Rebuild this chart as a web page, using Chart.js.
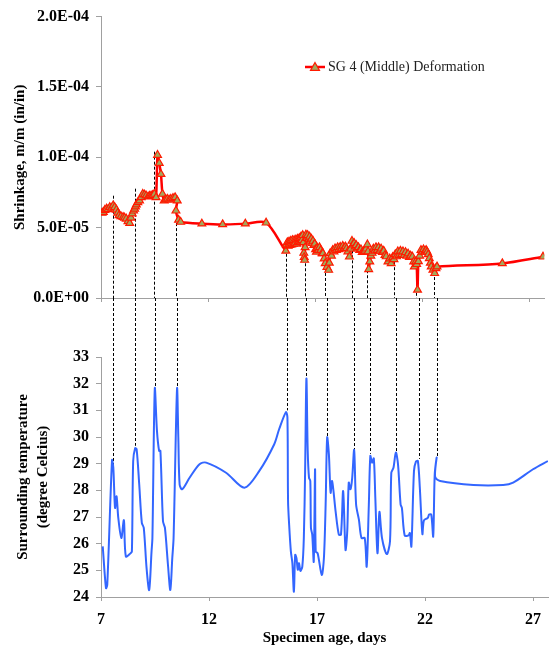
<!DOCTYPE html>
<html>
<head>
<meta charset="utf-8">
<script src="https://cdn.jsdelivr.net/npm/chart.js@4/dist/chart.umd.min.js"></script>
<style>
  body { margin: 0; background: #fff; }
  #wrap { position: relative; width: 550px; height: 649px; overflow: hidden; }
  canvas { position: absolute; left: 0; }
  #topChart { top: 0; }
  #bottomChart { top: 298px; }
</style>
</head>
<body>
<div id="wrap">
  <canvas id="topChart" width="550" height="320"></canvas>
  <canvas id="bottomChart" width="550" height="351"></canvas>
</div>
<script>
// shrinkage series (SG 4 middle), specimen age in days
let shrinkDays = [7.05, 7.11, 7.18, 7.26, 7.33, 7.41, 7.49, 7.57, 7.64, 7.72, 7.78, 7.84, 7.93, 8.03, 8.10, 8.18, 8.26, 8.34,
  8.40, 8.46, 8.52, 8.57, 8.61, 8.65, 8.72, 8.80, 8.88, 8.95, 9.03, 9.11, 9.20, 9.27, 9.34, 9.41, 9.49, 9.57,
  9.64, 9.72, 9.80, 9.87, 9.95, 10.02, 10.10, 10.18, 10.26, 10.36, 10.46, 10.56, 10.50, 10.62, 10.72,
  11.71, 12.68, 13.74, 14.71,
  15.63, 15.66, 15.70, 15.74, 15.78, 15.82, 15.86, 15.90, 15.94, 15.98, 16.02, 16.06, 16.10, 16.14, 16.18, 16.22,
  16.26, 16.30, 16.34, 16.38, 16.42, 16.45, 16.47, 16.49, 16.51, 16.53, 16.57, 16.61, 16.65, 16.70, 16.74, 16.78,
  16.82, 16.86, 16.90, 16.94, 16.98, 17.02, 17.06, 17.10, 17.15, 17.20, 17.26, 17.32, 17.36, 17.42, 17.47, 17.55,
  17.63, 17.66, 17.70, 17.76, 17.82, 17.88, 17.93, 17.99, 18.05, 18.11, 18.17, 18.23, 18.29, 18.35, 18.41, 18.47,
  18.53, 18.60, 18.66, 18.72, 18.77, 18.82, 18.87, 18.92, 18.97, 19.02, 19.08, 19.14, 19.20, 19.26, 19.32, 19.38,
  19.44, 19.47, 19.50, 19.55, 19.60, 19.66, 19.72, 19.78, 19.84, 19.90, 19.96, 20.02, 20.08, 20.14, 20.20, 20.26,
  20.32, 20.40, 20.48, 20.55, 20.62, 20.68, 20.74, 20.80, 20.86, 20.92, 20.98, 21.04, 21.10, 21.16, 21.22, 21.28,
  21.34, 21.40, 21.46, 21.54, 21.60, 21.63, 21.70, 21.74, 21.78, 21.82, 21.88, 21.94, 22.00, 22.06, 22.12, 22.18,
  22.23, 22.28, 22.33, 22.38, 22.42, 22.50, 22.58, 22.64, 22.69, 25.74, 27.64];
let shrinkVals = [6.05e-5, 6.10e-5, 6.25e-5, 6.34e-5, 6.30e-5, 6.45e-5, 6.40e-5, 6.57e-5, 6.45e-5, 6.27e-5, 6.05e-5, 5.87e-5,
  5.80e-5, 5.75e-5, 5.70e-5, 5.63e-5, 5.45e-5, 5.32e-5,
  5.70e-5, 5.99e-5, 6.20e-5, 6.34e-5, 6.50e-5, 6.64e-5, 6.80e-5, 6.92e-5, 7.15e-5, 7.39e-5, 7.35e-5, 7.27e-5,
  7.20e-5, 7.25e-5, 7.27e-5, 7.30e-5, 7.39e-5, 7.15e-5,
  10.16e-5, 9.58e-5, 8.80e-5, 7.39e-5, 6.92e-5, 7.00e-5, 7.04e-5, 6.98e-5, 7.04e-5, 7.10e-5, 7.15e-5, 6.92e-5,
  6.20e-5, 5.55e-5, 5.40e-5,
  5.28e-5, 5.23e-5, 5.28e-5, 5.35e-5,
  3.35e-5, 3.80e-5, 3.95e-5, 3.70e-5, 4.00e-5, 3.75e-5, 4.05e-5, 3.80e-5, 4.10e-5, 3.85e-5, 4.10e-5, 3.90e-5,
  4.15e-5, 3.85e-5, 4.20e-5, 3.95e-5,
  4.25e-5, 4.00e-5, 4.35e-5, 4.10e-5, 4.46e-5, 3.95e-5, 3.20e-5, 2.90e-5, 2.70e-5, 3.60e-5, 4.50e-5, 4.25e-5,
  4.46e-5, 4.20e-5, 4.35e-5, 4.05e-5,
  4.20e-5, 3.90e-5, 4.05e-5, 3.75e-5, 3.85e-5, 3.45e-5, 3.28e-5, 3.55e-5, 3.40e-5, 3.60e-5, 3.40e-5, 3.17e-5,
  3.17e-5, 2.80e-5, 2.46e-5, 2.20e-5,
  1.99e-5, 2.50e-5, 3.17e-5, 3.00e-5, 3.40e-5, 3.30e-5, 3.52e-5, 3.40e-5, 3.60e-5, 3.45e-5, 3.63e-5, 3.50e-5,
  3.70e-5, 3.55e-5, 3.65e-5, 3.52e-5,
  3.30e-5, 2.93e-5, 3.50e-5, 4.05e-5, 3.80e-5, 3.90e-5, 3.65e-5, 3.75e-5, 3.50e-5, 3.60e-5, 3.40e-5, 3.45e-5,
  3.25e-5, 3.30e-5, 3.35e-5, 3.50e-5,
  3.80e-5, 3.30e-5, 2.04e-5, 2.58e-5, 3.00e-5, 3.20e-5, 3.50e-5, 3.35e-5, 3.60e-5, 3.40e-5, 3.60e-5, 3.35e-5,
  3.50e-5, 3.25e-5, 3.35e-5, 3.05e-5,
  2.95e-5, 2.58e-5, 2.80e-5, 2.46e-5, 2.90e-5, 2.75e-5, 3.10e-5, 2.95e-5, 3.30e-5, 3.05e-5, 3.35e-5, 3.10e-5,
  3.30e-5, 3.05e-5, 3.25e-5, 3.00e-5,
  3.15e-5, 2.90e-5, 3.00e-5, 2.93e-5, 2.58e-5, 2.23e-5, 2.58e-5, 2.40e-5, 0.58e-5, 2.60e-5, 3.00e-5, 3.40e-5,
  3.28e-5, 3.45e-5, 3.30e-5, 3.40e-5,
  3.28e-5, 3.10e-5, 2.82e-5, 2.50e-5, 2.23e-5, 2.00e-5, 1.76e-5, 2.10e-5, 2.23e-5, 2.46e-5, 2.93e-5];

// surrounding temperature, deg C
let tempDays = [7.08, 7.23, 7.29, 7.51, 7.57, 7.65, 7.72, 7.80, 7.94, 8.06, 8.15, 8.37, 8.43, 8.49, 8.58, 8.65, 8.77,
  8.89, 8.98, 9.11, 9.23, 9.34, 9.38, 9.49, 9.59, 9.69, 9.75, 9.87, 9.96, 10.10, 10.21, 10.30, 10.36, 10.52,
  10.58, 10.64, 10.76, 11.10, 11.56, 11.87, 12.79, 13.64, 14.33, 15.02, 15.25, 15.56, 15.63, 15.66, 15.71,
  15.79, 15.86, 15.93, 15.99, 16.05, 16.11, 16.17, 16.23, 16.32, 16.39, 16.45, 16.51, 16.57, 16.63, 16.69,
  16.72, 16.78, 16.85, 16.91, 16.94, 17.03, 17.22, 17.32, 17.40, 17.47, 17.55, 17.63, 17.70, 17.86, 18.01,
  18.11, 18.21, 18.32, 18.40, 18.47, 18.55, 18.63, 18.72, 18.81, 18.94, 19.06, 19.21, 19.30, 19.40, 19.47,
  19.55, 19.63, 19.70, 19.80, 19.89, 20.01, 20.23, 20.38, 20.44, 20.54, 20.65, 20.75, 20.87, 20.93, 21.06,
  21.24, 21.30, 21.37, 21.49, 21.58, 21.67, 21.76, 21.88, 21.95, 22.13, 22.19, 22.29, 22.38, 22.45, 22.54,
  22.47, 22.70, 24.24, 25.62, 26.08, 27.00, 27.69];
let tempVals = [25.9, 24.33, 24.46, 29.13, 28.85, 27.34, 27.78, 26.97, 26.21, 26.88, 25.52, 25.64, 25.71, 29.1, 29.58,
  29.54, 28.22, 26.78, 26.59, 25.08, 24.26, 25.71, 26.21, 31.81, 30.24, 29.48, 29.48, 26.84, 26.59, 25.21,
  24.26, 25.46, 26.21, 31.81, 29.98, 28.22, 28.04, 28.47, 28.98, 29.04, 28.66, 28.10, 28.73, 29.73, 30.30,
  30.93, 30.74, 27.59, 26.72, 25.71, 25.27, 24.2, 25.58, 25.46, 25.02, 25.27, 24.98, 25.14, 26.21, 28.73,
  32.19, 29.48, 28.47, 28.35, 26.59, 26.34, 25.33, 28.79, 25.71, 25.64, 24.83, 25.46, 27.47, 29.98, 29.36,
  27.91, 28.35, 27.22, 26.34, 26.34, 27.97, 25.77, 26.46, 28.29, 28.04, 28.47, 29.51, 27.47, 26.9, 26.21,
  26.21, 25.14, 27.47, 29.29, 29.04, 29.2, 27.72, 25.64, 27.19, 26.21, 25.61, 26.09, 28.66, 28.85, 29.42,
  28.98, 27.47, 27.34, 26.31, 26.31, 26.4, 25.90, 28.73, 29.08, 29.10, 28.10, 26.36, 26.87, 26.97, 27.09,
  27.09, 26.27, 28.6, 29.23, 28.5, 28.35, 28.2, 28.2, 28.29, 28.79, 29.1];

// dashed guide lines between the two panels
let markerDays = [7.57, 8.58, 9.49, 10.52, 15.63, 16.51, 17.45, 18.72, 19.44, 20.67, 21.70, 22.54];
let markerShrink = [7.27e-5, 7.77e-5, 10.4e-5, 7.1e-5, 3.5e-5, 4.6e-5, 3.2e-5, 4.1e-5, 3.75e-5, 2.9e-5, 2.5e-5, 2.2e-5];
let markerTemp = [28.85, 29.67, 31.8, 31.8, 31.0, 32.2, 30.0, 29.5, 29.37, 29.4, 29.18, 29.23];

let xTicks = [7, 12, 17, 22, 27];
let shrinkTicks = [0, 5e-5, 1e-4, 1.5e-4, 2e-4];
let tempTicks = [24, 25, 26, 27, 28, 29, 30, 31, 32, 33];
let seriesName = 'SG 4 (Middle) Deformation';

const serif = '"Liberation Serif", "Times New Roman", serif';
const axisGray = '#a0a0a0';

function sciLabel (v) {
  let parts = v.toExponential(1).split('e');
  let sign = parts[1][0] === '-' ? '-' : '+';
  let digits = parts[1].replace('-', '').replace('+', '').padStart(2, '0');
  return parts[0] + 'E' + sign + digits;
}

const dashPlugin = {
  id: 'dashes',
  beforeDatasetsDraw (chart, args, opts) {
    const ctx = chart.ctx;
    const xs = chart.scales.x;
    const ys = chart.scales.y;
    ctx.save();
    ctx.setLineDash([3, 2]);
    ctx.strokeStyle = '#000';
    ctx.lineWidth = 1;
    for (let i = 0; i < markerDays.length; i++) {
      let x = Math.round(xs.getPixelForValue(markerDays[i])) + 0.5;
      let y1, y2;
      if (opts.part === 'top') {
        y1 = ys.getPixelForValue(markerShrink[i]);
        y2 = chart.chartArea.bottom;
      } else {
        y1 = 0;  // the bottom canvas starts at the top panel's x axis
        y2 = ys.getPixelForValue(markerTemp[i]);
      }
      ctx.beginPath();
      ctx.moveTo(x, y1);
      ctx.lineTo(x, y2);
      ctx.stroke();
    }
    ctx.restore();
  }
};

const legendPlugin = {
  id: 'sideLegend',
  afterDraw (chart) {
    const ctx = chart.ctx;
    const ds = chart.data.datasets[0];
    let lx = 305, ly = 67;
    ctx.save();
    ctx.strokeStyle = ds.borderColor;
    ctx.lineWidth = 2.5;
    ctx.beginPath();
    ctx.moveTo(lx, ly);
    ctx.lineTo(lx + 20, ly);
    ctx.stroke();
    // triangle marker
    let r = 4.5;
    ctx.beginPath();
    ctx.moveTo(lx + 10, ly - r);
    ctx.lineTo(lx + 10 + r, ly + r * 0.75);
    ctx.lineTo(lx + 10 - r, ly + r * 0.75);
    ctx.closePath();
    ctx.fillStyle = ds.pointBackgroundColor;
    ctx.fill();
    ctx.lineWidth = 1.2;
    ctx.strokeStyle = ds.pointBorderColor;
    ctx.stroke();
    ctx.fillStyle = '#222';
    ctx.font = '14px ' + serif;
    ctx.textBaseline = 'middle';
    ctx.fillText(ds.label, lx + 23, ly);
    ctx.restore();
  }
};

let topChart = new Chart(document.getElementById('topChart'), {
  type: 'line',
  data: {
    datasets: [{
      label: seriesName,
      data: shrinkDays.map((d, i) => ({ x: d, y: shrinkVals[i] })),
      borderColor: '#ff0000',
      borderWidth: 2.5,
      pointStyle: 'triangle',
      pointRadius: 4.5,
      pointBackgroundColor: '#a3a85c',
      pointBorderColor: '#ff1a00',
      pointBorderWidth: 1.2,
      tension: 0.3
    }]
  },
  options: {
    responsive: false,
    animation: false,
    layout: { padding: { top: 14, right: 0, left: 0, bottom: 0 } },
    plugins: { legend: { display: false }, tooltip: { enabled: false }, dashes: { part: 'top' } },
    scales: {
      x: {
        type: 'linear', min: 7, max: 27.7,
        afterBuildTicks: s => { s.ticks = xTicks.map(v => ({ value: v })); },
        afterFit: s => { s.height = 22; },
        ticks: { display: false },
        grid: { drawOnChartArea: false, tickLength: 4, color: axisGray },
        border: { color: axisGray }
      },
      y: {
        min: 0, max: 2e-4,
        afterBuildTicks: s => { s.ticks = shrinkTicks.map(v => ({ value: v })); },
        afterFit: s => { s.width = 101; },
        ticks: { callback: v => sciLabel(v), color: '#000', padding: 7, font: { family: serif, size: 16, weight: 'bold' } },
        grid: { drawOnChartArea: false, tickLength: 5, color: axisGray },
        border: { color: axisGray },
        title: { display: true, text: 'Shrinkage, m/m (in/in)', color: '#000', padding: { top: 11 }, font: { family: serif, size: 15, weight: 'bold' } }
      }
    }
  },
  plugins: [dashPlugin, legendPlugin]
});

let bottomChart = new Chart(document.getElementById('bottomChart'), {
  type: 'line',
  data: {
    datasets: [{
      label: 'Surrounding temperature',
      data: tempDays.map((d, i) => ({ x: d, y: tempVals[i] })),
      borderColor: '#3366ff',
      borderWidth: 2,
      pointRadius: 0,
      tension: 0.3
    }]
  },
  options: {
    responsive: false,
    animation: false,
    layout: { padding: { top: 59, right: 0, left: 0, bottom: 0 } },
    plugins: { legend: { display: false }, tooltip: { enabled: false }, dashes: { part: 'bottom' } },
    scales: {
      x: {
        type: 'linear', min: 7, max: 27.7,
        afterBuildTicks: s => { s.ticks = xTicks.map(v => ({ value: v })); },
        afterFit: s => { s.height = 52; },
        ticks: { color: '#000', padding: 9, maxRotation: 0, font: { family: serif, size: 16, weight: 'bold' } },
        grid: { drawOnChartArea: false, tickLength: 4, color: axisGray },
        border: { color: axisGray },
        title: { display: true, text: 'Specimen age, days', color: '#000', padding: { top: 0, bottom: 2 }, font: { family: serif, size: 15, weight: 'bold' } }
      },
      y: {
        min: 24, max: 33,
        afterBuildTicks: s => { s.ticks = tempTicks.map(v => ({ value: v })); },
        afterFit: s => { s.width = 101; },
        ticks: { color: '#000', padding: 7, font: { family: serif, size: 16, weight: 'bold' } },
        grid: { drawOnChartArea: false, tickLength: 5, color: axisGray },
        border: { color: axisGray },
        title: { display: true, text: ['Surrounding temperature', '(degree Celcius)'], color: '#000', padding: { top: 13 }, font: { family: serif, size: 15, weight: 'bold', lineHeight: 1.33 } }
      }
    }
  },
  plugins: [dashPlugin]
});
</script>
</body>
</html>
